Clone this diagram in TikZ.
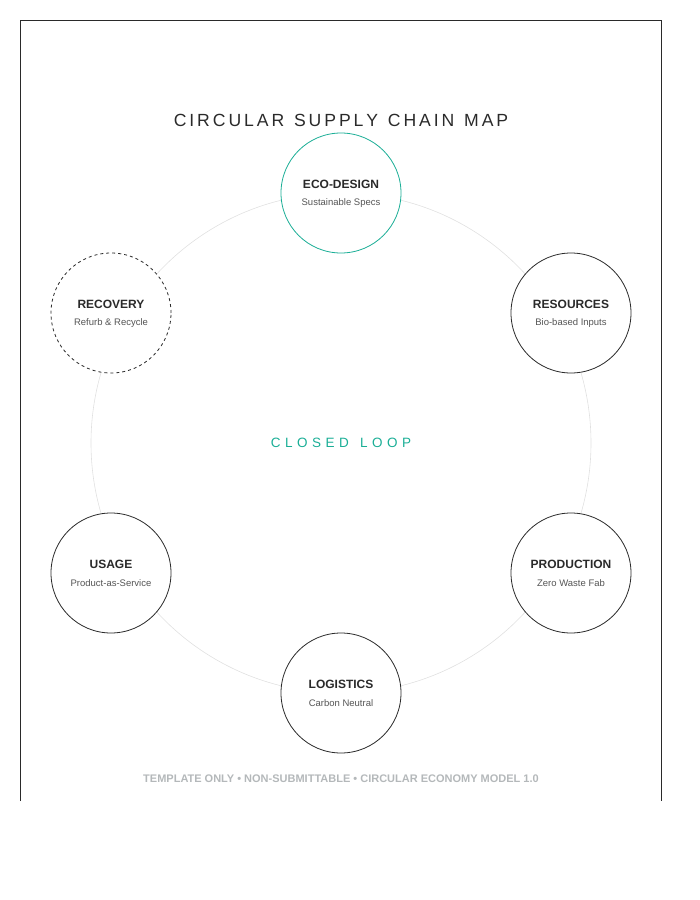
\documentclass[tikz,border=0pt]{standalone}
\usepackage{fontspec}
\setmainfont{Liberation Sans}
\definecolor{teal1}{HTML}{1AAE96}
\definecolor{ink}{HTML}{2A2A2A}
\definecolor{sub}{HTML}{555555}
\definecolor{foot}{HTML}{B4B8BA}
\begin{document}
\begin{tikzpicture}[x=1pt,y=-1pt,
  stage/.style={circle,draw=ink,line width=0.8pt,fill=white,minimum size=120,inner sep=0pt,align=center},
  ttl/.style={font=\fontsize{12}{14}\selectfont\bfseries,text=ink},
  sb/.style={font=\fontsize{9.5}{11}\selectfont,text=sub}]
\useasboundingbox (0,0) rectangle (700,900);
\draw[ink,line width=0.6pt] (20.5,801) -- (20.5,20.5) -- (661,20.5) -- (661,801);
\node[font=\fontsize{17.6}{21}\selectfont,text=ink] (title) at (341,120) {C\,I\,R\,C\,U\,L\,A\,R\ \ S\,U\,P\,P\,L\,Y\ \ C\,H\,A\,I\,N\ \ M\,A\,P};
\coordinate (c) at (341,443);
\draw[black!12,line width=0.6pt] (c) circle (250);
\node[font=\fontsize{13.5}{16}\selectfont,text=teal1] (loop) at (c) {C\,\,L\,\,O\,\,S\,\,E\,\,D\ \ \ L\,\,O\,\,O\,\,P};
\newcommand{\stg}[5]{\node[stage,#1] (#2) at (#3) {}; \node[ttl] at ([yshift=9]#3) {#4}; \node[sb] at ([yshift=-10]#3) {#5};}
\stg{draw=teal1}{eco}{341,193}{ECO-DESIGN}{Sustainable Specs}
\stg{}{res}{571,313}{RESOURCES}{Bio-based Inputs}
\stg{}{prod}{571,573}{PRODUCTION}{Zero Waste Fab}
\stg{}{log}{341,693}{LOGISTICS}{Carbon Neutral}
\stg{}{use}{111,573}{USAGE}{Product-as-Service}
\stg{dashed}{rec}{111,313}{RECOVERY}{Refurb \& Recycle}
\node[font=\fontsize{11}{13}\selectfont\bfseries,text=foot] (ft) at (341,779) {TEMPLATE ONLY • NON-SUBMITTABLE • CIRCULAR ECONOMY MODEL 1.0};
\end{tikzpicture}
\end{document}
